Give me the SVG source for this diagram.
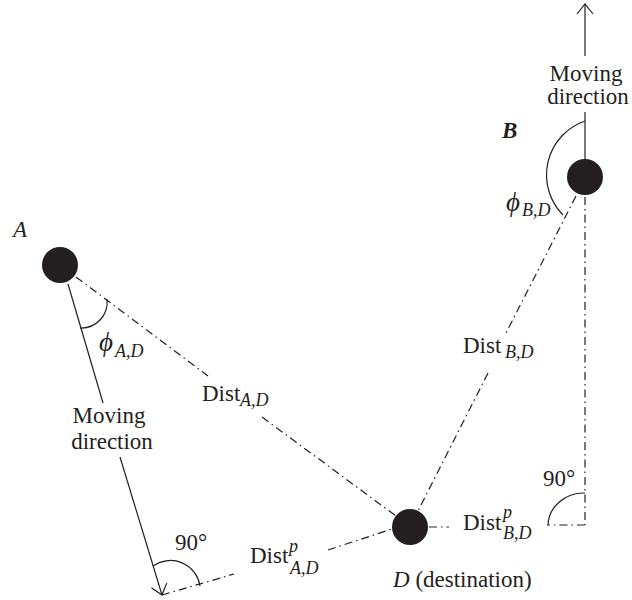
<svg xmlns="http://www.w3.org/2000/svg" width="632" height="600" viewBox="0 0 632 600">
<style>
.t{font-family:"Liberation Serif","Times New Roman",serif;font-size:23px;fill:#231f20}
.i{font-style:italic}
.phi{font-family:"Liberation Serif","Times New Roman",serif;font-size:27px;font-style:italic;fill:#231f20}
.s{font-family:"Liberation Serif","Times New Roman",serif;font-size:18px;font-style:italic;fill:#231f20}
.solid{stroke:#231f20;stroke-width:1.2;fill:none}
.dd{stroke:#231f20;stroke-width:1.2;fill:none;stroke-dasharray:8 4 1.5 4}
.node{fill:#231f20}
</style>
<defs>
<marker id="arr" viewBox="0 0 12 18" refX="11" refY="9" markerWidth="12" markerHeight="18" orient="auto" markerUnits="userSpaceOnUse">
<path d="M1,1 L11,9 L1,17" fill="none" stroke="#231f20" stroke-width="1.2"/>
</marker>
</defs>
<rect width="632" height="600" fill="#fff"/>

<g id="connectors">
<line class="solid" x1="68" y1="284" x2="103" y2="403"/>
<line class="solid" x1="120" y1="457" x2="162" y2="595" marker-end="url(#arr)"/>
<line class="solid" x1="585" y1="56" x2="585" y2="4" marker-end="url(#arr)"/>
<line class="solid" x1="585" y1="112" x2="585" y2="160"/>
<line class="dd" x1="76" y1="277" x2="208" y2="376"/>
<line class="dd" x1="262" y1="417" x2="396" y2="516"/>
<line class="dd" x1="576" y1="196" x2="505" y2="335"/>
<line class="dd" x1="488" y1="373" x2="418" y2="511"/>
<line class="dd" x1="585" y1="197" x2="585" y2="525"/>
<line class="dd" x1="585" y1="525" x2="547" y2="525"/>
<line class="dd" x1="429" y1="527" x2="449" y2="527"/>
<line class="dd" x1="162" y1="595" x2="234" y2="574"/>
<line class="dd" x1="328" y1="550" x2="392" y2="529"/>
<path class="solid" d="M107,299 A26,26 0 0,1 80,328"/>
<path class="solid" d="M153,566 A30,30 0 0,1 200,586"/>
<path class="solid" d="M585,121 A57,57 0 0,0 563,215"/>
<path class="solid" d="M548,525 A36,33 0 0,1 585,493"/>
</g>

<g id="node-A">
<circle class="node" cx="60" cy="265" r="18"/>
<text class="t i" x="13" y="237">A</text>
</g>
<g id="node-B">
<circle class="node" cx="585" cy="177" r="18"/>
<text class="t i" x="502" y="138" font-weight="bold">B</text>
</g>
<g id="node-D">
<circle class="node" cx="410" cy="527" r="18"/>
<text class="t" x="393" y="587"><tspan class="i">D</tspan> (destination)</text>
</g>

<g id="labels">
<text class="t" text-anchor="middle" x="586" y="81">Moving</text>
<text class="t" text-anchor="middle" x="588" y="104">direction</text>
<text class="t" text-anchor="middle" x="109" y="423">Moving</text>
<text class="t" text-anchor="middle" x="112" y="449">direction</text>

<text class="phi" x="99" y="351">ϕ</text>
<text class="s" x="115" y="357">A,D</text>
<text class="t" x="202" y="401">Dist</text>
<text class="s" x="240" y="406">A,D</text>

<text class="phi" x="506" y="211">ϕ</text>
<text class="s" x="522" y="216">B,D</text>
<text class="t" x="463" y="353">Dist</text>
<text class="s" x="505" y="358">B,D</text>

<text class="t" x="175" y="550">90°</text>
<text class="t" x="250" y="563">Dist</text>
<text class="s" x="289" y="552" font-size="16">p</text>
<text class="s" x="290" y="574">A,D</text>

<text class="t" x="543" y="486">90°</text>
<text class="t" x="463" y="530">Dist</text>
<text class="s" x="503" y="518" font-size="16">p</text>
<text class="s" x="503" y="539">B,D</text>
</g>
</svg>
